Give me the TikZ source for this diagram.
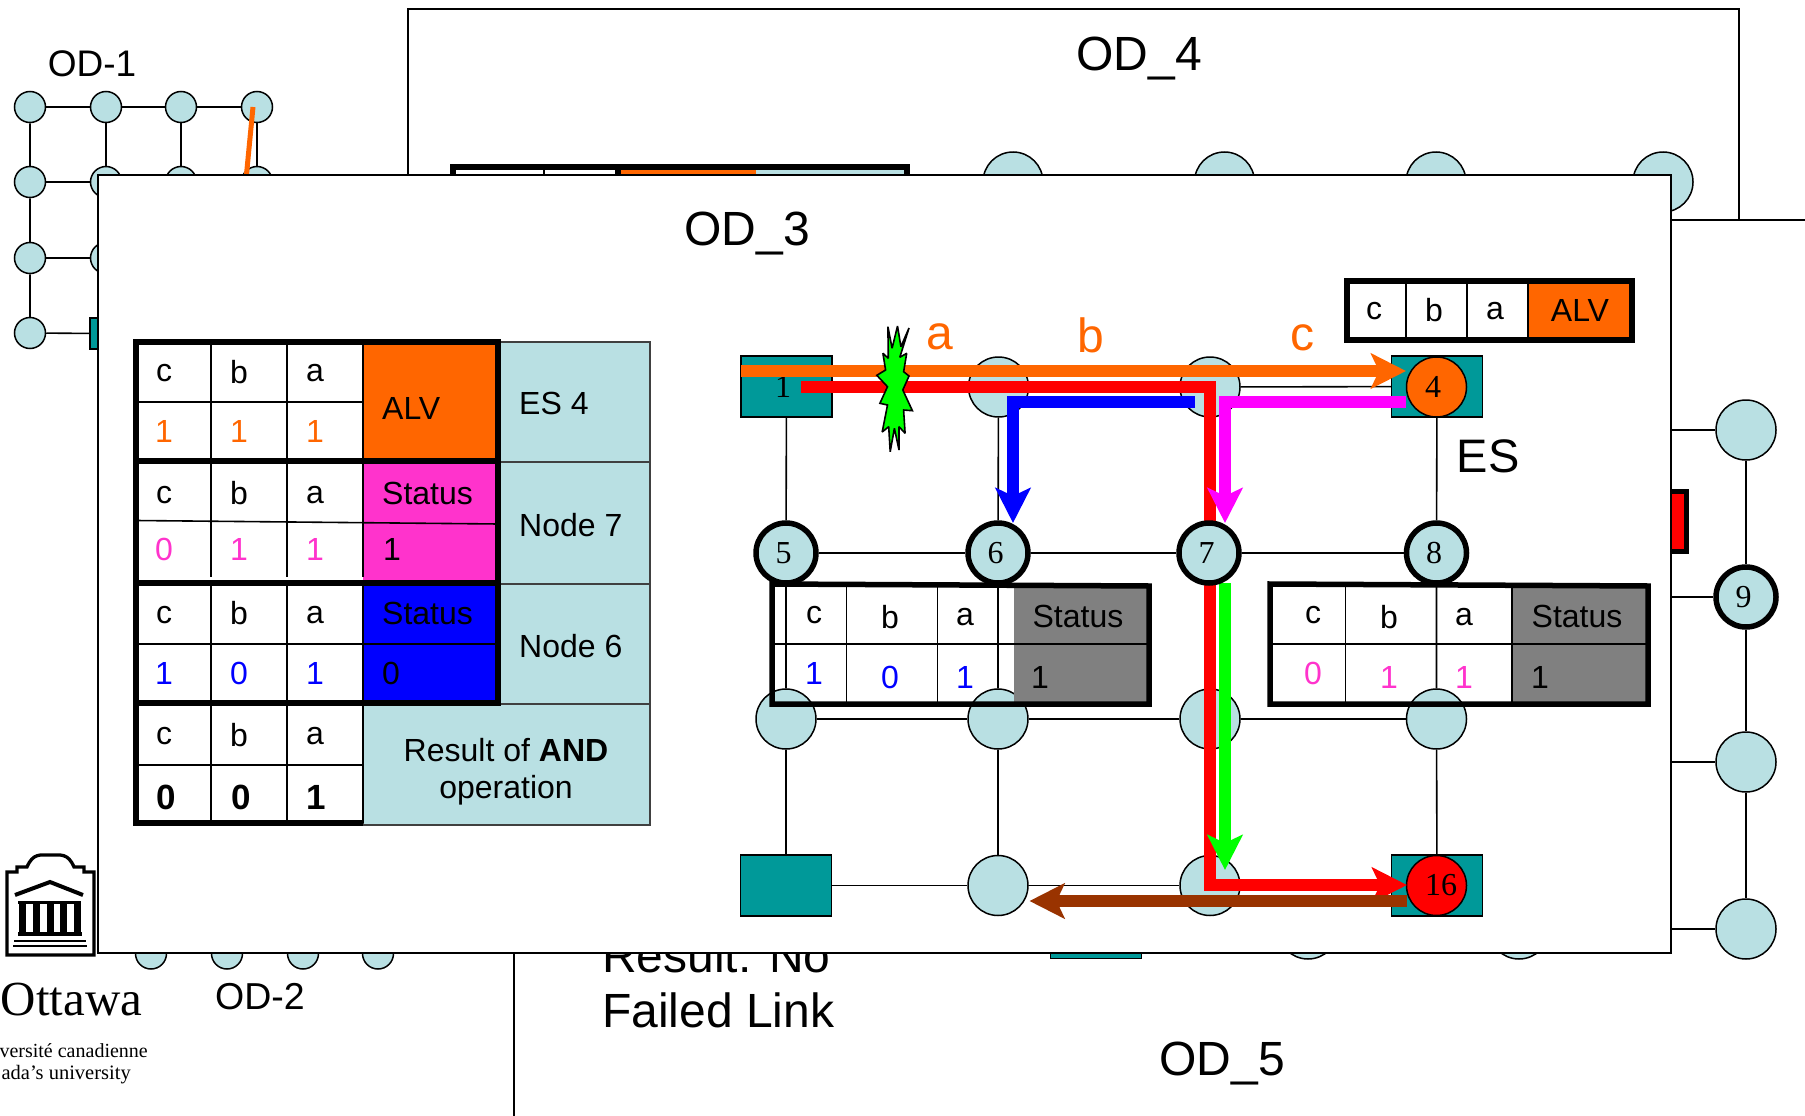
\documentclass[tikz,border=0pt]{standalone}
\usepackage{fontspec}
\setmainfont{Liberation Sans}
\newfontfamily\serifnum{Liberation Serif}
\usetikzlibrary{arrows.meta}
\definecolor{lb}{HTML}{B9E0E3}
\definecolor{teal2}{HTML}{009999}
\definecolor{org}{HTML}{FF6600}
\definecolor{pnk}{HTML}{FF33CC}
\definecolor{mgn}{HTML}{FF00FF}
\definecolor{blu}{HTML}{0000FF}
\definecolor{gry}{HTML}{808080}
\definecolor{grn}{HTML}{00FF00}
\definecolor{brn}{HTML}{993300}
\newcommand{\fs}[1]{\fontsize{#1}{#1}\selectfont}
\newcommand{\shft}[2]{\hspace*{#1pt}#2}
\pgfdeclarelayer{ae}\pgfdeclarelayer{an}\pgfdeclarelayer{de}\pgfdeclarelayer{dn}
\pgfdeclarelayer{ee}\pgfdeclarelayer{en}\pgfdeclarelayer{pe}\pgfdeclarelayer{pn}
\pgfsetlayers{ae,an,de,dn,ee,en,pe,pn,main}
\tikzset{
  circ/.style={circle,draw=black,line width=1.5pt,fill=lb,minimum size=60pt,inner sep=0pt,font=\serifnum\fs{32}},
  circs/.style={circ,minimum size=31pt},
  tcirc/.style={circ,line width=5.5pt},
  sq/.style={rectangle,draw=black,line width=1.5pt,fill=teal2,minimum width=91pt,minimum height=61pt,inner sep=0pt,font=\serifnum\fs{32}},
  edge/.style={draw=black,line width=1.6pt},
  thin/.style={draw=black,line width=1.6pt},
  thick/.style={draw=black,line width=5.5pt},
  frame/.style={draw=black,line width=1.6pt,fill=white},
  tx/.style={inner sep=0pt,font=\fs{32}},
  lab/.style={inner sep=0pt,font=\fs{48}},
  flow/.style={line width=12pt,line join=miter,-{Stealth[length=35pt,width=35pt,inset=8pt]}},
}
\newcommand{\tcell}[4]{\node[tx,text=#4] (#1) at (#2) {#3};}
\newcommand{\lcell}[4]{\node[tx,anchor=west,text=#4] (#1) at (#2) {#3};}
\begin{document}
\begin{tikzpicture}[x=1pt,y=-1pt]
\useasboundingbox (0,0) rectangle (1805,1116);
\begin{pgfonlayer}{ae}
\fill[white] (0,0) rectangle (1805,1116);
\end{pgfonlayer}

% ---------- OD-1 ----------
\begin{pgfonlayer}{an}
\node[lab,font=\fs{37}] (tod1) at (92,64) {OD-1};
\foreach \r/\y in {1/107,2/182,3/258,4/333}{
  \foreach \c/\x in {1/30,2/106,3/181,4/257}{
    \node[circs] (a\r\c) at (\x,\y) {};
  }
}
\node[sq,minimum width=20pt,minimum height=31pt] (asq) at (100,333.5) {};
\end{pgfonlayer}
\begin{pgfonlayer}{ae}
\draw[edge] (a11)--(a12)--(a13)--(a14);
\draw[edge] (a11)--(a21)--(a31)--(a41)--(asq);
\draw[edge] (a21)--(a22);
\draw[edge] (a31)--(a32);
\draw[edge] (a12)--(a22);
\draw[edge] (a13)--(a23);
\draw[edge] (a14)--(a24);
\end{pgfonlayer}
\begin{pgfonlayer}{an}
\coordinate (aorgA) at (253,107);
\coordinate (aorgB) at (245,190);
\draw[org,line width=5pt] (aorgA)--(aorgB);
\end{pgfonlayer}

% ---------- OD-2 and university mark ----------
\begin{pgfonlayer}{an}
\foreach \c/\x in {1/151,2/227,3/303,4/378}{
  \node[circ,minimum size=31pt] (b\c) at (\x,953.5) {};
}
\node[inner sep=0pt,font=\fs{37.5}] (tod2) at (260,997) {OD-2};
\node[inner sep=0pt,anchor=base east,font=\serifnum\fs{49}] (tott) at (142.5,1015) {Ottawa};
\node[inner sep=0pt,anchor=base east,font=\serifnum\fs{20}] (tuni) at (148,1057) {versité canadienne};
\node[inner sep=0pt,anchor=base east,font=\serifnum\fs{20.5}] (tcan) at (131,1079) {ada’s university};
% logo
\draw[black,line width=3.3pt,fill=white,line join=miter]
  (7,955) -- (7,872) -- (17,872) -- (17,867) -- (27,867)
  .. controls (33,853) and (40,855) .. (50,855)
  .. controls (61,855) and (68,853) .. (74,867)
  -- (84,867) -- (84,872) -- (94,872) -- (94,955) -- cycle;
\draw[black,line width=4pt,line join=miter] (15,895) -- (50,882) -- (83,895);
\draw[black,line width=3pt] (18,902) -- (81,902);
\foreach \x in {22,36,50,63.5,77}{\draw[black,line width=7pt] (\x,902) -- (\x,934);}
\draw[black,line width=3.5pt] (18,934) -- (82,934);
\draw[black,line width=2pt] (14,940.5) -- (86,940.5);
\draw[black,line width=2pt] (13,945.5) -- (87,945.5);
\end{pgfonlayer}

% ---------- OD_4 ----------
\begin{pgfonlayer}{de}
\filldraw[frame] (408,9) rectangle (1739,400);
\node[lab] (tod4) at (1139,59) {OD\_4};
\end{pgfonlayer}
\begin{pgfonlayer}{dn}
\fill[org] (618,167) rectangle (756,200);
\fill[lb] (756,167) rectangle (907,200);
\draw[thin] (544,167) -- (544,200);
\draw[thick] (453,200) -- (453,167) -- (907,167) -- (907,200);
\draw[thick] (618,167) -- (618,200);
\foreach \c/\x in {1/1013,2/1224.5,3/1436,4/1663}{
  \node[circ] (d\c) at (\x,182) {};
}
\end{pgfonlayer}

% ---------- OD_5 ----------
\begin{pgfonlayer}{ee}
\filldraw[frame] (514,220) rectangle (1830,1140);
\node[lab,anchor=base west] (tres) at (602,972) {Result: No};
\node[lab,anchor=base west] (tfail) at (602,1027) {Failed Link};
\node[lab] (tod5) at (1222,1064) {OD\_5};
\end{pgfonlayer}
\begin{pgfonlayer}{en}
\node[circ] (e1) at (1746,430) {};
\node[tcirc] (e2) at (1746,597) {\shft{-5}{9}};
\node[circ] (e3) at (1746,762) {};
\node[circ] (e4) at (1746,929) {};
\node[sq] (esq) at (1096,928) {};
\node[circ] (e5) at (1308,929) {};
\node[circ] (e6) at (1519,929) {};
\filldraw[fill=red,draw=black,line width=5pt] (1660,491) rectangle (1686,551.5);
\end{pgfonlayer}
\begin{pgfonlayer}{ee}
\coordinate (ew1) at (1660,430);\coordinate (ew2) at (1660,597);
\coordinate (ew3) at (1660,762);\coordinate (ew4) at (1660,929);
\draw[edge] (e1)--(e2)--(e3)--(e4);
\draw[edge] (ew1)--(e1); \draw[edge] (ew2)--(e2);
\draw[edge] (ew3)--(e3); \draw[edge] (ew4)--(e4);
\end{pgfonlayer}

% ---------- OD_3 panel ----------
\begin{pgfonlayer}{pe}
\filldraw[frame,line width=1.8pt] (98,175) rectangle (1671,953);
\node[lab] (tod3) at (747,234) {OD\_3};
\end{pgfonlayer}
\begin{pgfonlayer}{pn}
\node[sq] (n1) at (786.5,386.5) {\shft{-7}{1}};
\node[circ] (n2) at (998.5,387) {};
\node[circ] (n3) at (1210,387) {};
\node[sq] (n4s) at (1437,386.5) {};
\node[circ,fill=org] (n4) at (1436.5,387) {\shft{-7}{4}};
\node[tcirc] (n5) at (786,553) {\shft{-5}{5}};
\node[tcirc] (n6) at (998,553) {\shft{-5}{6}};
\node[tcirc] (n8) at (1436.5,553) {\shft{-5}{8}};
\node[circ] (n9) at (786,719) {};
\node[circ] (n10) at (998,719) {};
\node[circ] (n11) at (1210,719) {};
\node[circ] (n12) at (1436.5,719) {};
\node[sq] (n13) at (786,885.5) {};
\node[circ] (n14) at (998,885.5) {};
\node[circ] (n15) at (1210,885.5) {};
\node[sq] (n16s) at (1437,885.5) {};
\node[circ,fill=red] (n16) at (1436.5,885.5) {\shft{9}{16}};
\end{pgfonlayer}

% ---------- left table ----------
\fill[org] (363,342) rectangle (499,461);
\fill[pnk] (363,461) rectangle (499,583);
\fill[blu] (363,583) rectangle (499,703);
\filldraw[fill=lb,draw=black!75,line width=1.6pt] (499,342) rectangle (650,462);
\filldraw[fill=lb,draw=black!75,line width=1.6pt] (499,462) rectangle (650,584);
\filldraw[fill=lb,draw=black!75,line width=1.6pt] (499,584) rectangle (650,704);
\filldraw[fill=lb,draw=black!75,line width=1.6pt] (363,704) rectangle (650,825);
\foreach \x in {211,287,363}{
  \draw[thin] (\x,342) -- (\x,461);
  \draw[thin] (\x,461) -- (\x,577);
  \draw[thin] (\x,583) -- (\x,823);
}
\draw[thin] (136,402) -- (363,402);
\draw[thin] (136,520.5) -- (499,524);
\draw[thin] (136,644) -- (499,644);
\draw[thin] (136,765) -- (363,765);
\draw[thick] (136,339.5) -- (136,826);
\foreach \y in {342,461,583,703}{\draw[thick] (133,\y) -- (501,\y);}
\draw[thick] (133,823) -- (363,823);
\draw[thick] (498,339.5) -- (498,706);

\tcell{L1c}{164,373}{c}{black}\tcell{L1b}{239,372}{b}{black}\tcell{L1a}{315,373}{a}{black}
\tcell{L1x}{164,431}{1}{org}\tcell{L1y}{239,431}{1}{org}\tcell{L1z}{315,431}{1}{org}
\tcell{L2c}{164,495}{c}{black}\tcell{L2b}{239,493}{b}{black}\tcell{L2a}{315,495}{a}{black}
\tcell{L2x}{164,549}{0}{pnk}\tcell{L2y}{239,549}{1}{pnk}\tcell{L2z}{315,549}{1}{pnk}
\tcell{L3c}{164,615}{c}{black}\tcell{L3b}{239,613}{b}{black}\tcell{L3a}{315,615}{a}{black}
\tcell{L3x}{164,673}{1}{blu}\tcell{L3y}{239,673}{0}{blu}\tcell{L3z}{315,673}{1}{blu}
\tcell{L4c}{164,736}{c}{black}\tcell{L4b}{239,735}{b}{black}\tcell{L4a}{315,736}{a}{black}
\node[tx,font=\fs{35}\bfseries] (L4x) at (166,797) {0};
\node[tx,font=\fs{35}\bfseries] (L4y) at (241,797) {0};
\node[tx,font=\fs{35}\bfseries] (L4z) at (316,797) {1};
\lcell{Lalv}{382,408}{ALV}{black}
\lcell{Lst1}{382,493}{Status}{black}
\lcell{Lv1}{383,549}{1}{black}
\lcell{Lst2}{382,613}{Status}{black}
\lcell{Lv2}{382,673}{0}{black}
\lcell{Les}{519,403}{ES 4}{black}
\lcell{Ln7}{519,525}{Node 7}{black}
\lcell{Ln6}{519,646}{Node 6}{black}
\tcell{Lr1}{506,750}{Result of \textbf{AND}}{black}
\tcell{Lr2}{506,790}{operation}{black}

% ---------- flows ----------
\coordinate (fo1) at (741,371);   \coordinate (fo2) at (1406,371);
\coordinate (fr1) at (801,387);   \coordinate (fr2) at (1210,387);
\coordinate (fr3) at (1210,885);  \coordinate (fr4) at (1407,885);
\coordinate (fb1) at (1195,402);  \coordinate (fb2) at (1013,402); \coordinate (fb3) at (1013,523);
\coordinate (fm1) at (1406,402);  \coordinate (fm2) at (1225,402); \coordinate (fm3) at (1225,523);
\coordinate (fg1) at (1225,583);  \coordinate (fg2) at (1225,870);
\coordinate (fw1) at (1407,901);  \coordinate (fw2) at (1029.5,901);
\draw[flow,org] (fo1) -- (fo2);
\draw[flow,red] (fr1) -- (fr2) -- (fr3) -- (fr4);
\draw[flow,blu] (fb1) -- (fb2) -- (fb3);
\draw[flow,mgn] (fm1) -- (fm2) -- (fm3);
\draw[flow,grn] (fg1) -- (fg2);
\draw[flow,brn] (fw1) -- (fw2);

% node 7 sits above the red flow
\node[tcirc] (n7) at (1209,553) {\shft{-5}{7}};
\begin{pgfonlayer}{pe}
\draw[edge] (n1)--(n2)--(n3)--(n4s);
\draw[edge] (n5)--(n6)--(n7)--(n8);
\draw[edge] (n9)--(n10)--(n11)--(n12);
\draw[edge] (n13)--(n14)--(n15)--(n16s);
\draw[edge] (n1)--(n5)--(n9)--(n13);
\draw[edge] (n2)--(n6)--(n10)--(n14);
\draw[edge] (n3)--(n7)--(n11)--(n15);
\draw[edge] (n4s)--(n8)--(n12)--(n16s);
\end{pgfonlayer}

% failure burst
\filldraw[fill=grn,draw=black,line width=1.6pt,line join=miter,miter limit=2]
 (887.9,326.7)--(892.1,348.3)--(897.5,326)--(900.9,346.7)--(909,328)--(899.8,357.3)--(906.7,353.3)
 --(903.6,371.7)--(909,376)--(902.8,390)--(912.4,410.7)--(903.6,410)--(905.1,433.3)--(899,426.7)
 --(899,450)--(894.4,428.3)--(890.2,451.7)--(888.7,426.7)--(882.2,432)--(887.5,405)--(879.9,403.3)
 --(887.5,386.7)--(876.8,375.3)--(885.6,370)--(882.9,353.3)--(888.3,358.3)--cycle;

\node[lab,text=org] (la) at (940,337) {a};
\node[lab,text=org] (lb) at (1091,335) {b};
\node[lab,text=org] (lc) at (1302,338) {c};
\node[inner sep=0pt,font=\fs{47}] (les) at (1488,456) {ES};

% ---------- ALV table ----------
\fill[white] (1344,278) rectangle (1528,343);
\fill[org] (1528,278) rectangle (1635,343);
\draw[thin] (1406,278) -- (1406,343);
\draw[thin] (1467,278) -- (1467,343);
\draw[thin] (1528,278) -- (1528,343);
\draw[thick,line join=miter] (1347,281) rectangle (1632,340);
\tcell{A1}{1374,311}{c}{black}\tcell{A2}{1434,310}{b}{black}\tcell{A3}{1495,311}{a}{black}\tcell{A4}{1580,310}{ALV}{black}

% ---------- node 6 table ----------
\fill[gry] (1013.5,584) rectangle (1150,705);
\draw[thin] (846.5,584) -- (846.5,705);
\draw[thin] (937.5,584) -- (937.5,705);
\draw[thin] (771,644) -- (1150,644);
\draw[thick,line join=miter] (772,584) -- (1149,586) -- (1149,704) -- (772,704) -- cycle;
\tcell{B1}{814,615}{c}{black}\tcell{B2}{890,617}{b}{black}\tcell{B3}{965,617}{a}{black}\tcell{B4}{1078,616}{Status}{black}
\tcell{B5}{814,673}{1}{blu}\tcell{B6}{890,677}{0}{blu}\tcell{B7}{965,677}{1}{blu}\tcell{B8}{1040,677}{1}{black}

% ---------- node 7 table ----------
\fill[gry] (1512,584) rectangle (1649,705);
\draw[thin] (1345.5,584) -- (1345.5,705);
\draw[thin] (1512,584) -- (1512,705);
\draw[thin] (1270,644) -- (1649,644);
\draw[thick,line join=miter] (1270,584) -- (1648,586) -- (1648,704) -- (1270,704) -- cycle;
\tcell{C1}{1313,615}{c}{black}\tcell{C2}{1389,617}{b}{black}\tcell{C3}{1464,617}{a}{black}\tcell{C4}{1577,616}{Status}{black}
\tcell{C5}{1313,673}{0}{pnk}\tcell{C6}{1389,677}{1}{pnk}\tcell{C7}{1464,677}{1}{pnk}\tcell{C8}{1540,677}{1}{black}
\end{tikzpicture}
\end{document}
